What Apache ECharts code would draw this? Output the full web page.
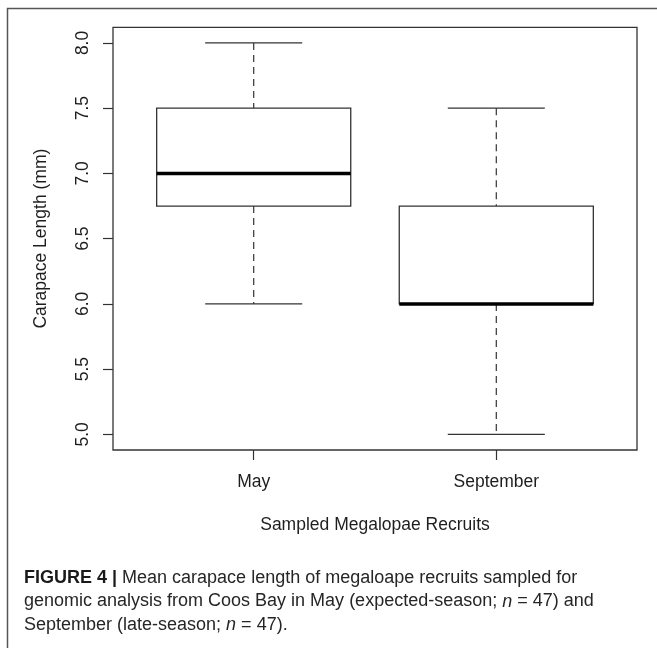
<!DOCTYPE html>
<html>
<head>
<meta charset="utf-8">
<script src="https://cdn.jsdelivr.net/npm/echarts@6/dist/echarts.min.js"></script>
<style>
  html, body { margin: 0; padding: 0; background: #fff; }
  #chart { width: 657px; height: 648px; }
</style>
</head>
<body>
<div id="chart"></div>
<script>
// ---- data ----
const categories = ['May', 'September'];
const minVals    = [6.0, 5.0];
const q1Vals     = [6.75, 6.0];
const medianVals = [7.0, 6.0];
const q3Vals     = [7.5, 6.75];
const maxVals    = [8.0, 7.5];
const yMin = 5.0, yMax = 8.0, yStep = 0.5;

const xTitle = 'Sampled Megalopae Recruits';
const yTitle = 'Carapace Length (mm)';

// ---- layout (pixels) ----
const FONT = '"Liberation Sans", Arial, Helvetica, sans-serif';
const AX_FS = 17.5;
const CAP_FS = 18;
const frame = { x: 113, y: 27.3, w: 524, h: 422.7 };
// data region: R adds 4% each side
const yPad = (yMax - yMin) * 0.04;
const pxPerY = frame.h / (yMax - yMin + 2 * yPad);
const gridTop = frame.y + yPad * pxPerY;
const gridH = (yMax - yMin) * pxPerY;
// x: categories at 1..n, xlim 0.5..n+0.5 extended 4%
const n = categories.length;
const xRange = n * 1.08;
const pxPerX = frame.w / xRange;
const gridLeft = frame.x + (0.04 * n) * pxPerX;
const gridW = n * pxPerX;

const boxData = categories.map((c, i) => [i, minVals[i], q1Vals[i], medianVals[i], q3Vals[i], maxVals[i]]);

const LINE = '#333';
const TXT = '#1e1e1e';

function renderItem(params, api) {
  const idx = api.value(0);
  const lo = api.coord([idx, api.value(1)]);
  const q1 = api.coord([idx, api.value(2)]);
  const med = api.coord([idx, api.value(3)]);
  const q3 = api.coord([idx, api.value(4)]);
  const hi = api.coord([idx, api.value(5)]);
  const band = api.size([1, 0])[0];
  const cx = med[0];
  const bh = band * 0.4;
  const ch = band * 0.2;
  const dashStyle = { stroke: LINE, lineWidth: 1.2, lineDash: [7, 5], fill: null };
  const solid = { stroke: LINE, lineWidth: 1.3, fill: null };
  return {
    type: 'group',
    children: [
      { type: 'line', shape: { x1: cx, y1: hi[1], x2: cx, y2: q3[1] }, style: dashStyle },
      { type: 'line', shape: { x1: cx, y1: q1[1], x2: cx, y2: lo[1] }, style: dashStyle },
      { type: 'line', shape: { x1: cx - ch, y1: hi[1], x2: cx + ch, y2: hi[1] }, style: solid },
      { type: 'line', shape: { x1: cx - ch, y1: lo[1], x2: cx + ch, y2: lo[1] }, style: solid },
      { type: 'rect', shape: { x: cx - bh, y: q3[1], width: 2 * bh, height: q1[1] - q3[1] },
        style: { stroke: LINE, lineWidth: 1.3, fill: '#fff' } },
      { type: 'line', shape: { x1: cx - bh, y1: med[1], x2: cx + bh, y2: med[1] },
        style: { stroke: '#000', lineWidth: 3.5 } }
    ]
  };
}

const chart = echarts.init(document.getElementById('chart'), null, { renderer: 'canvas' });
chart.setOption({
  animation: false,
  backgroundColor: '#fff',
  textStyle: { fontFamily: FONT },
  grid: { left: gridLeft, top: gridTop, width: gridW, height: gridH, containLabel: false },
  xAxis: {
    type: 'category',
    data: categories,
    offset: frame.y + frame.h - (gridTop + gridH),
    axisLine: { show: false },
    axisTick: { show: true, alignWithLabel: true, length: 10, lineStyle: { color: LINE, width: 1.2 } },
    axisLabel: { color: TXT, fontSize: AX_FS, margin: 23, fontFamily: FONT },
    name: xTitle,
    nameLocation: 'middle',
    nameGap: 66,
    nameTextStyle: { color: TXT, fontSize: AX_FS, fontFamily: FONT },
    splitLine: { show: false }
  },
  yAxis: {
    type: 'value',
    min: yMin, max: yMax, interval: yStep,
    offset: gridLeft - frame.x,
    axisLine: { show: false },
    axisTick: { show: true, length: 10, lineStyle: { color: LINE, width: 1.2 } },
    axisLabel: { color: TXT, fontSize: AX_FS, margin: 21, rotate: 90, fontFamily: FONT,
      formatter: v => v.toFixed(1) },
    name: yTitle,
    nameLocation: 'middle',
    nameGap: 63,
    nameTextStyle: { color: TXT, fontSize: AX_FS, fontFamily: FONT },
    splitLine: { show: false }
  },
  series: [{
    type: 'custom',
    renderItem: renderItem,
    encode: { x: 0, y: [1, 2, 3, 4, 5] },
    data: boxData,
    clip: false
  }],
  graphic: [
    { type: 'rect', silent: true, z: -1, shape: { x: 7.5, y: 8.5, width: 720, height: 720 },
      style: { fill: null, stroke: '#555', lineWidth: 1.5 } },
    { type: 'rect', silent: true, shape: { x: frame.x, y: frame.y, width: frame.w, height: frame.h },
      style: { fill: null, stroke: LINE, lineWidth: 1.3 } },
    { type: 'text', left: 24, top: 569, silent: true,
      style: { text: '{b|FIGURE 4 |} Mean carapace length of megaloape recruits sampled for',
        font: CAP_FS + 'px ' + FONT, fill: '#262626',
        rich: { b: { fontWeight: 'bold', fontSize: CAP_FS, fontFamily: FONT, fill: '#1a1a1a' } } } },
    { type: 'text', left: 24, top: 592.5, silent: true,
      style: { text: 'genomic analysis from Coos Bay in May (expected-season; {i|n} = 47) and',
        font: CAP_FS + 'px ' + FONT, fill: '#262626',
        rich: { i: { fontStyle: 'italic', fontSize: CAP_FS, fontFamily: FONT, fill: '#262626' } } } },
    { type: 'text', left: 24, top: 616, silent: true,
      style: { text: 'September (late-season; {i|n} = 47).',
        font: CAP_FS + 'px ' + FONT, fill: '#262626',
        rich: { i: { fontStyle: 'italic', fontSize: CAP_FS, fontFamily: FONT, fill: '#262626' } } } }
  ]
});
</script>
</body>
</html>
